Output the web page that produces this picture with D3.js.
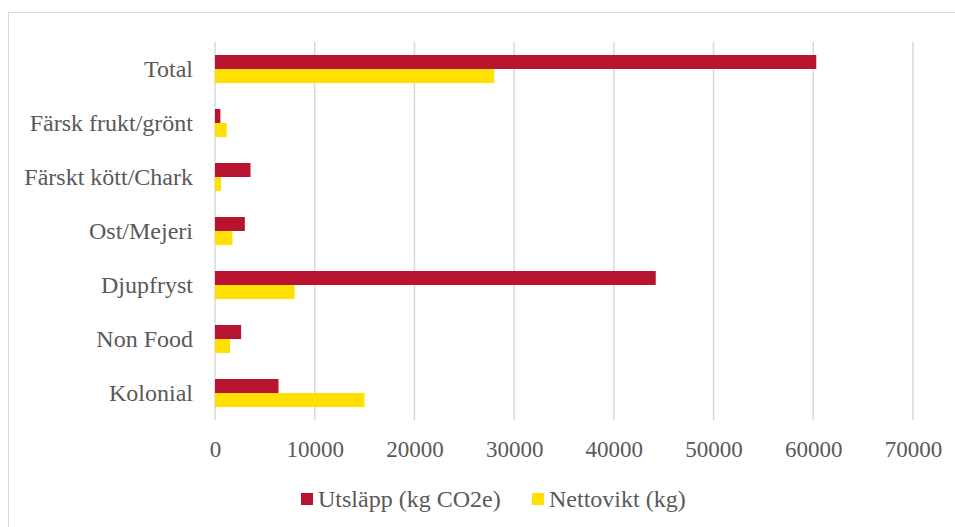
<!DOCTYPE html>
<html>
<head>
<meta charset="utf-8">
<script src="https://cdn.jsdelivr.net/npm/d3@7"></script>
<style>
  html, body { margin: 0; padding: 0; background: #fff; }
  svg { display: block; }
  text { font-family: "Liberation Serif", "Times New Roman", serif; fill: #595959; }
</style>
</head>
<body>
<svg id="chart" width="955" height="527"></svg>
<script>
// Product categories, top to bottom
const categories = ["Total", "Färsk frukt/grönt", "Färskt kött/Chark", "Ost/Mejeri", "Djupfryst", "Non Food", "Kolonial"];
// Emissions in kg CO2e per category
const utslapp = [60300, 540, 3560, 2990, 44200, 2620, 6370];
// Net weight in kg per category
const nettovikt = [28000, 1180, 600, 1750, 7990, 1510, 14980];
// Series names shown in the legend
const seriesNames = ["Utsläpp (kg CO2e)", "Nettovikt (kg)"];
const seriesColors = ["#B8142F", "#FFE000"];
// Value axis ticks
const xTicks = [0, 10000, 20000, 30000, 40000, 50000, 60000, 70000];

const rows = categories.map((c, i) => ({ category: c, values: [utslapp[i], nettovikt[i]] }));

const svg = d3.select("#chart");
const margin = { left: 215, right: 42, top: 42, bottom: 107 };
const W = 955, H = 527;
const serif = '"Liberation Serif", "Times New Roman", serif';

// Outer chart frame
svg.append("rect")
  .attr("x", 8.5).attr("y", 12.5)
  .attr("width", 960).attr("height", 530)
  .attr("fill", "#fff").attr("stroke", "#d9d9d9").attr("stroke-width", 1);

const x = d3.scaleLinear()
  .domain([0, 70000])
  .range([margin.left, 913]);

const y = d3.scaleBand()
  .domain(categories)
  .range([margin.top, H - margin.bottom])
  .padding(0);

const ySub = d3.scaleBand()
  .domain([0, 1])
  .range([0, y.bandwidth()])
  .paddingInner(0)
  .paddingOuter(0.93);

// Vertical gridlines
svg.append("g")
  .selectAll("line")
  .data(xTicks)
  .join("line")
  .attr("x1", d => x(d)).attr("x2", d => x(d))
  .attr("y1", margin.top).attr("y2", H - margin.bottom)
  .attr("stroke", "#d9d9d9").attr("stroke-width", 1.5);

// Bars
const groups = svg.append("g")
  .selectAll("g")
  .data(rows)
  .join("g")
  .attr("transform", d => `translate(0,${y(d.category)})`);

groups.selectAll("rect")
  .data(d => d.values.map((v, k) => ({ v, k })))
  .join("rect")
  .attr("x", x(0))
  .attr("y", d => ySub(d.k))
  .attr("width", d => x(d.v) - x(0))
  .attr("height", ySub.bandwidth())
  .attr("fill", d => seriesColors[d.k]);

// Category axis labels
const yAxis = d3.axisLeft(y).tickSize(0).tickPadding(22);
const gy = svg.append("g")
  .attr("transform", `translate(${margin.left},0)`)
  .call(yAxis);
gy.select(".domain").remove();
gy.selectAll("text")
  .style("font-family", serif)
  .style("font-size", "24px")
  .attr("fill", "#595959")
  .attr("dy", "0.33em");

// Value axis labels
const xAxis = d3.axisBottom(x).tickValues(xTicks).tickFormat(d3.format("d")).tickSize(0).tickPadding(0);
const gx = svg.append("g")
  .attr("transform", `translate(0,457)`)
  .call(xAxis);
gx.select(".domain").remove();
gx.selectAll("text")
  .attr("dy", null)
  .attr("y", 0)
  .style("font-family", serif)
  .style("font-size", "23px")
  .attr("fill", "#595959");

// Legend
const legendItems = [
  { name: seriesNames[0], color: seriesColors[0], x: 301 },
  { name: seriesNames[1], color: seriesColors[1], x: 532 }
];
const lg = svg.append("g")
  .selectAll("g")
  .data(legendItems)
  .join("g")
  .attr("transform", d => `translate(${d.x},0)`);
lg.append("rect")
  .attr("x", 0).attr("y", 493)
  .attr("width", 12).attr("height", 12)
  .attr("fill", d => d.color);
lg.append("text")
  .attr("x", 17).attr("y", 506.5)
  .style("font-family", serif)
  .style("font-size", "24px")
  .text(d => d.name);
</script>
</body>
</html>
